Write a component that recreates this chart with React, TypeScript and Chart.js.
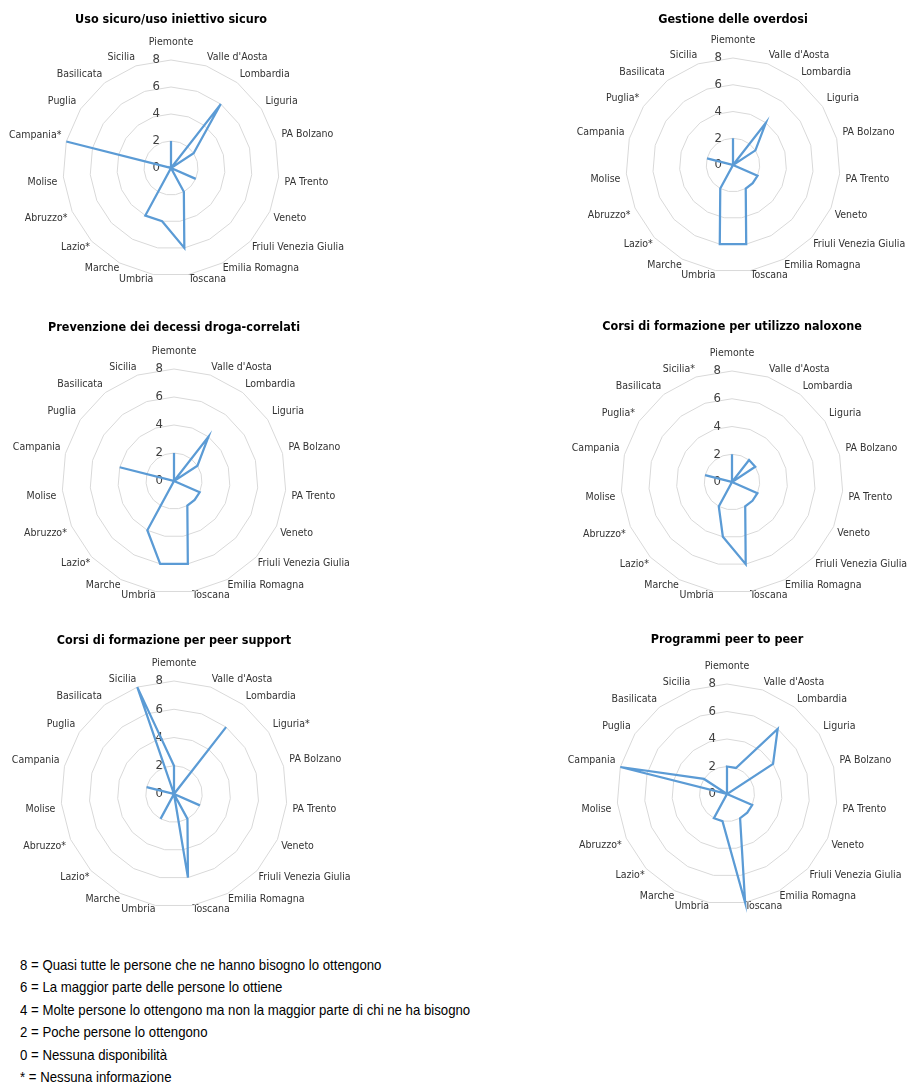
import React, { useEffect, useRef } from "react";
import { Chart, registerables } from "chart.js";

Chart.register(...registerables);

// ---- data ----
const regions = [
  "Piemonte", "Valle d'Aosta", "Lombardia", "Liguria", "PA Bolzano", "PA Trento",
  "Veneto", "Friuli Venezia Giulia", "Emilia Romagna", "Toscana", "Umbria", "Marche",
  "Lazio", "Abruzzo", "Molise", "Campania", "Puglia", "Basilicata", "Sicilia",
];

const starsUsoSicuro = ["Lazio", "Abruzzo", "Campania"];
const starsOverdosi = ["Lazio", "Abruzzo", "Puglia"];
const starsPrevenzione = ["Lazio", "Abruzzo"];
const starsNaloxone = ["Lazio", "Abruzzo", "Puglia", "Sicilia"];
const starsPeerSupport = ["Liguria", "Lazio", "Abruzzo"];
const starsPeerToPeer = ["Lazio", "Abruzzo"];

const usoSicuro = [2, 0, 6, 2, 0, 0, 2, 0, 2, 6, 4, 4, 0, 0, 0, 8, 0, 0, 0];
const gestioneOverdosi = [2, 0, 4, 2, 0, 0, 2, 2, 2, 6, 6, 2, 0, 0, 0, 2, 0, 0, 0];
const prevenzioneDecessi = [2, 0, 4, 2, 0, 0, 2, 2, 2, 6, 6, 4, 0, 0, 0, 4, 0, 0, 0];
const formazioneNaloxone = [2, 0, 2, 2, 0, 0, 2, 2, 2, 6, 4, 2, 0, 0, 0, 2, 0, 0, 0];
const formazionePeerSupport = [2, 0, 6, 0, 0, 0, 2, 0, 2, 6, 0, 2, 0, 0, 0, 2, 0, 0, 8];
const programmiPeerToPeer = [2, 2, 6, 4, 0, 0, 2, 2, 2, 8, 2, 2, 0, 0, 0, 8, 2, 0, 0];

const tickValues = [0, 2, 4, 6, 8];

const legendLines = [
  "8 = Quasi tutte le persone che ne hanno bisogno lo ottengono",
  "6 = La maggior parte delle persone lo ottiene",
  "4 = Molte persone lo ottengono ma non la maggior parte di chi ne ha bisogno",
  "2 = Poche persone lo ottengono",
  "0 = Nessuna disponibilità",
  "* = Nessuna informazione",
];

// ---- style ----
const FONT = "'DejaVu Sans Condensed', 'Liberation Sans', sans-serif";
const TITLE_SIZE = 12.5;
const TITLE_PAD_TOP = 4;
const LABEL_SIZE = 10.5;
const LABEL_LH = 1.0;
const TICK_SIZE = 13;
const CW = 420;
// gap between outer ring and each region label (px), clockwise from the top
const LABEL_GAPS = [12.5, 3, 4, 5, 6, 6, 4, 2, 0.5, -1, -1, 0.5, 2, 5, 6, 5, 5, 4, 3];

const withStars = (stars: string[]) => regions.map((r) => (stars.includes(r) ? r + "*" : r));

type ChartSpec = {
  title: string;
  labels: string[];
  values: number[];
  cx: number;
  cy: number;
  titleY: number;
  radius: number;
};

const specs: ChartSpec[] = [
  { title: "Uso sicuro/uso iniettivo sicuro", labels: withStars(starsUsoSicuro), values: usoSicuro, cx: 171, cy: 168, titleY: 19, radius: 108 },
  { title: "Gestione delle overdosi", labels: withStars(starsOverdosi), values: gestioneOverdosi, cx: 733, cy: 164, titleY: 19, radius: 107 },
  { title: "Prevenzione dei decessi droga-correlati", labels: withStars(starsPrevenzione), values: prevenzioneDecessi, cx: 174, cy: 481, titleY: 327, radius: 112 },
  { title: "Corsi di formazione per utilizzo naloxone", labels: withStars(starsNaloxone), values: formazioneNaloxone, cx: 732, cy: 482, titleY: 326, radius: 111 },
  { title: "Corsi di formazione per peer support", labels: withStars(starsPeerSupport), values: formazionePeerSupport, cx: 174, cy: 794, titleY: 640, radius: 113 },
  { title: "Programmi peer to peer", labels: withStars(starsPeerToPeer), values: programmiPeerToPeer, cx: 727, cy: 794, titleY: 639, radius: 110 },
];

const TICK_EXTRA = TICK_SIZE / 2; // chart.js pushes point labels out by half the tick label height

function makeConfig(spec: ChartSpec, padBottom: number): any {
  return {
    type: "radar",
    data: {
      labels: spec.labels,
      datasets: [
        {
          data: spec.values,
          borderColor: "#5B9BD5",
          borderWidth: 2.25,
          fill: false,
          pointRadius: 0,
          pointHoverRadius: 0,
          tension: 0,
          borderJoinStyle: "miter",
        },
      ],
    },
    options: {
      responsive: false,
      maintainAspectRatio: false,
      animation: false,
      devicePixelRatio: 1,
      layout: { padding: 0 },
      events: [],
      plugins: {
        legend: { display: false },
        tooltip: { enabled: false },
        title: {
          display: true,
          text: spec.title,
          color: "#000000",
          font: { family: FONT, size: TITLE_SIZE, weight: "bold" },
          padding: { top: TITLE_PAD_TOP, bottom: padBottom },
        },
      },
      scales: {
        r: {
          min: -0.001,
          max: tickValues[tickValues.length - 1],
          ticks: {
            stepSize: tickValues[1] - tickValues[0],
            showLabelBackdrop: false,
            backdropPadding: 0,
            color: "#404040",
            font: { family: FONT, size: TICK_SIZE },
            callback: (v: any) => String(Math.round(Number(v))) + "        ",
          },
          grid: { color: "#d9d9d9", lineWidth: 1, circular: false },
          angleLines: { display: false },
          pointLabels: {
            color: "#333333",
            font: { family: FONT, size: LABEL_SIZE, lineHeight: LABEL_LH },
            padding: (ctx: any) => LABEL_GAPS[ctx.index] - TICK_EXTRA,
          },
        },
      },
    },
  };
}

function RadarChart({ spec }: { spec: ChartSpec }) {
  const ref = useRef<HTMLCanvasElement | null>(null);
  const titleLH = TITLE_SIZE * 1.2;
  const top = Math.round(spec.titleY - TITLE_PAD_TOP - titleLH / 2);
  useEffect(() => {
    const canvas = ref.current;
    if (!canvas) return;
    let padBottom = 6;
    let height = Math.round(TITLE_PAD_TOP + titleLH + padBottom + 2 * (spec.radius + 17) + TICK_SIZE);
    let chart: any = null;
    for (let iter = 0; iter < 4; iter++) {
      canvas.width = CW;
      canvas.height = height;
      canvas.style.width = CW + "px";
      canvas.style.height = height + "px";
      chart = new Chart(canvas, makeConfig(spec, padBottom));
      const sc: any = chart.scales.r;
      const dR = spec.radius - sc.drawingArea;
      const dC = spec.cy - top - sc.yCenter;
      if ((Math.abs(dR) < 0.5 && Math.abs(dC) < 0.5) || iter === 3) break;
      chart.destroy();
      let dp = dC - dR;
      if (padBottom + dp < 0) dp = -padBottom;
      padBottom += dp;
      height = Math.round(height + 2 * dR + dp);
    }
    canvas.style.left = Math.round(spec.cx - chart.scales.r.xCenter) + "px";
    return () => chart.destroy();
  }, [spec]);
  return (
    <canvas
      ref={ref}
      width={CW}
      height={300}
      style={{ position: "absolute", left: Math.round(spec.cx - CW / 2), top, width: CW, height: 300 }}
    />
  );
}

export default function App() {
  return (
    <div
      style={{
        position: "absolute",
        left: 0,
        top: 0,
        width: 907,
        height: 1084,
        overflow: "hidden",
        background: "#ffffff",
      }}
    >
      {specs.map((s, i) => (
        <RadarChart key={i} spec={s} />
      ))}
      <div
        style={{
          position: "absolute",
          left: 20,
          top: 954,
          fontFamily: "'Liberation Sans', Arial, sans-serif",
          fontSize: 15,
          lineHeight: "22.4px",
          color: "#000000",
          whiteSpace: "nowrap",
          transform: "scaleX(0.88)",
          transformOrigin: "left top",
        }}
      >
        {legendLines.map((l, i) => (
          <div key={i}>{l}</div>
        ))}
      </div>
    </div>
  );
}
